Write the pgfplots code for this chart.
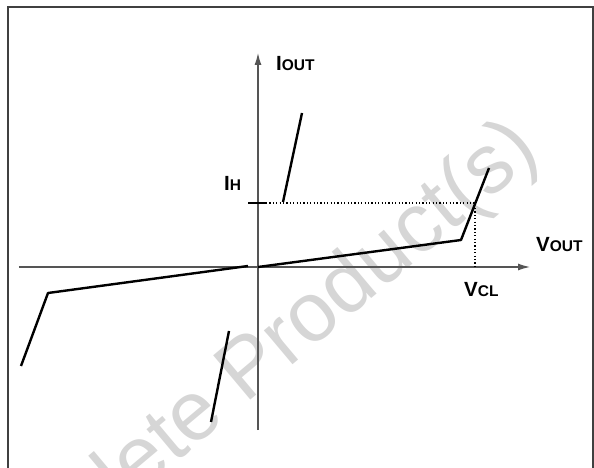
\documentclass[border=0pt]{standalone}
\usepackage{fontspec}
\setmainfont{Liberation Sans}
\usepackage{pgfplots}
\pgfplotsset{compat=1.18}
\usetikzlibrary{arrows.meta}
\definecolor{axisgray}{RGB}{85,85,85}
\definecolor{wmgray}{RGB}{214,214,214}
\newcommand{\lab}[2]{\bfseries\fontsize{20.5}{24}\selectfont #1\fontsize{15.5}{18}\selectfont #2}
\begin{document}
\begin{tikzpicture}
\begin{axis}[scale only axis, width=594pt, height=468pt,
  xmin=-258, xmax=336, ymin=-201, ymax=267, hide axis, clip=false]
  % watermark
  \node[wmgray, rotate=40, anchor=base west, inner sep=0pt,
        font=\fontsize{84}{100}\selectfont] at (axis cs:-288,-369) {Obsolete Product(s)};
  \coordinate (bl) at (rel axis cs:0,0);
  \coordinate (tr) at (rel axis cs:1,1);
  % frame
  \draw[line width=1.4pt, black!75] (axis cs:-250,-230) rectangle (axis cs:335,260);
  % axes
  \draw[axisgray, line width=1.2pt, -{Latex[length=12pt,width=7pt]}] (axis cs:-239,0) -- (axis cs:272,0);
  \draw[axisgray, line width=1.2pt, -{Latex[length=12pt,width=7pt]}] (axis cs:0,-163) -- (axis cs:0,214);
  % I-V characteristic
  \addplot[black, line width=2.4pt, line join=round] coordinates {(-237,-99) (-210,-26) (-10,1)};
  \addplot[black, line width=2.4pt, line join=round] coordinates {(0,0) (203,27) (231,99)};
  \addplot[black, line width=2.4pt] coordinates {(25,65) (44,154)};
  \addplot[black, line width=2.4pt] coordinates {(-29,-64) (-47,-155)};
  % holding current and clamp voltage
  \addplot[black, line width=2.4pt] coordinates {(-10,64) (8,64)};
  \addplot[black, line width=1.2pt, dash pattern=on 1.2pt off 2.2pt] coordinates {(8,64) (217,64)};
  \addplot[black, line width=1.2pt, dash pattern=on 1.2pt off 2.2pt] coordinates {(217,59) (217,0)};
  % labels
  \node[anchor=base west, inner sep=0pt] at (axis cs:18,196) {\lab{I}{OUT}};
  \node[anchor=base west, inner sep=0pt] at (axis cs:-34,76) {\lab{I}{H}};
  \node[anchor=base west, inner sep=0pt] at (axis cs:278,15) {\lab{V}{OUT}};
  \node[anchor=base west, inner sep=0pt] at (axis cs:206,-30) {\lab{V}{CL}};
\end{axis}
\pgfresetboundingbox
\path[use as bounding box] (bl) rectangle (tr);
\end{tikzpicture}
\end{document}
